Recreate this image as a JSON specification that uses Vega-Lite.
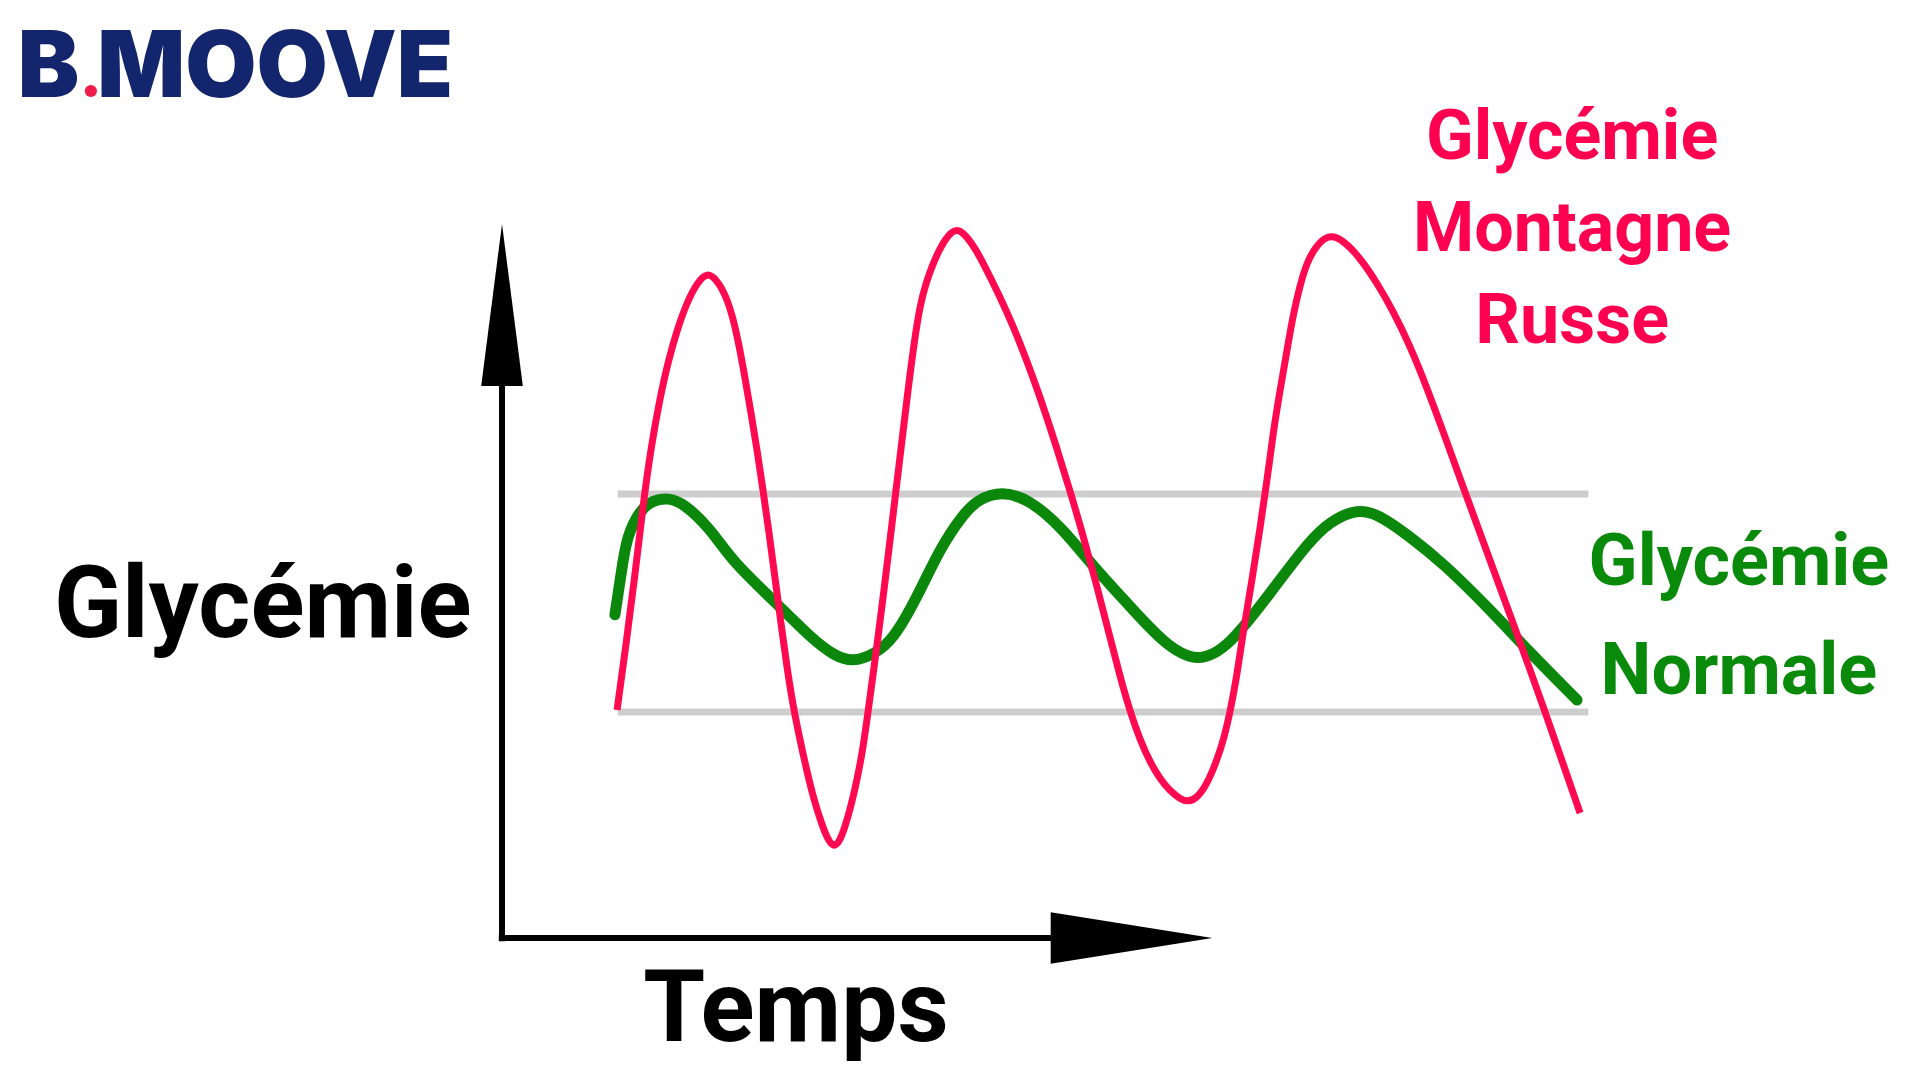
{
  "$schema": "https://vega.github.io/schema/vega-lite/v6.json",
  "width": 1920,
  "height": 1080,
  "autosize": {"type": "fit", "contains": "padding"},
  "padding": 0,
  "background": "white",
  "config": {"view": {"stroke": null}},
  "datasets": {
    "bands": [
      {"t": 16.3, "t2": 153.0, "v": 111},
      {"t": 16.3, "t2": 153.0, "v": 56.5}
    ],
    "axesLines": [
      {"t": 0, "t2": 0, "v": -0.8, "v2": 140},
      {"t": -0.45, "t2": 78.5, "v": 0, "v2": 0}
    ],
    "yArrow": [{"t": 0, "v": 158.25}],
    "xArrow": [{"t": 88.66, "v": 0}],
    "red": [
      {"t": 16.20, "v": 57.0}, {"t": 17.46, "v": 73.25}, {"t": 18.73, "v": 90.75}, {"t": 19.86, "v": 108.25},
      {"t": 20.99, "v": 122.75}, {"t": 22.25, "v": 135.0}, {"t": 23.38, "v": 144.0}, {"t": 24.65, "v": 152.0},
      {"t": 26.06, "v": 159.0}, {"t": 27.46, "v": 163.75}, {"t": 28.87, "v": 166.5}, {"t": 30.28, "v": 164.5},
      {"t": 31.55, "v": 160.5}, {"t": 32.54, "v": 155.0}, {"t": 33.38, "v": 148.25}, {"t": 34.23, "v": 140.0},
      {"t": 35.07, "v": 131.25}, {"t": 35.92, "v": 122.0}, {"t": 36.76, "v": 112.0}, {"t": 37.61, "v": 101.25},
      {"t": 38.45, "v": 90.0}, {"t": 39.30, "v": 78.5}, {"t": 40.14, "v": 67.5}, {"t": 40.99, "v": 58.0},
      {"t": 41.97, "v": 49.5}, {"t": 42.96, "v": 41.5}, {"t": 43.94, "v": 34.5}, {"t": 44.93, "v": 29.0},
      {"t": 45.77, "v": 25.0}, {"t": 46.62, "v": 22.75}, {"t": 47.46, "v": 23.75}, {"t": 48.31, "v": 27.75},
      {"t": 49.15, "v": 33.0}, {"t": 50.00, "v": 39.5}, {"t": 50.85, "v": 47.5}, {"t": 51.55, "v": 56.5},
      {"t": 52.25, "v": 65.75}, {"t": 52.96, "v": 75.25}, {"t": 53.80, "v": 87.0}, {"t": 54.65, "v": 99.5},
      {"t": 55.49, "v": 112.0}, {"t": 56.34, "v": 124.5}, {"t": 57.18, "v": 137.0}, {"t": 58.03, "v": 148.75},
      {"t": 58.87, "v": 158.25}, {"t": 59.72, "v": 163.75}, {"t": 60.56, "v": 168.0}, {"t": 61.69, "v": 172.5},
      {"t": 62.82, "v": 175.75}, {"t": 64.08, "v": 177.5}, {"t": 65.35, "v": 175.65}, {"t": 66.62, "v": 172.4},
      {"t": 67.75, "v": 168.8}, {"t": 70.14, "v": 160.3}, {"t": 71.97, "v": 153.0}, {"t": 73.94, "v": 144.25},
      {"t": 75.77, "v": 135.3}, {"t": 78.17, "v": 122.3}, {"t": 80.00, "v": 111.75}, {"t": 81.69, "v": 101.55},
      {"t": 83.66, "v": 88.8}, {"t": 85.63, "v": 75.1}, {"t": 87.04, "v": 65.4}, {"t": 88.45, "v": 56.6},
      {"t": 89.86, "v": 49.5}, {"t": 91.27, "v": 43.9}, {"t": 92.68, "v": 39.75}, {"t": 94.08, "v": 36.75},
      {"t": 95.49, "v": 34.75}, {"t": 96.62, "v": 34.0}, {"t": 97.89, "v": 35.0}, {"t": 99.30, "v": 38.5},
      {"t": 100.70, "v": 44.5}, {"t": 101.69, "v": 50.0}, {"t": 102.54, "v": 56.5}, {"t": 103.52, "v": 65.75},
      {"t": 104.37, "v": 76.5}, {"t": 105.63, "v": 89.5}, {"t": 106.76, "v": 102.5}, {"t": 107.75, "v": 114.5},
      {"t": 108.59, "v": 126.25}, {"t": 109.58, "v": 137.0}, {"t": 110.56, "v": 147.0}, {"t": 111.41, "v": 155.75},
      {"t": 112.39, "v": 163.25}, {"t": 113.38, "v": 169.0}, {"t": 114.51, "v": 172.5}, {"t": 115.63, "v": 174.75},
      {"t": 116.90, "v": 175.75}, {"t": 118.73, "v": 174.0}, {"t": 120.85, "v": 170.0}, {"t": 123.24, "v": 163.75},
      {"t": 125.49, "v": 156.75}, {"t": 127.89, "v": 148.0}, {"t": 130.28, "v": 137.5}, {"t": 132.82, "v": 125.25},
      {"t": 135.35, "v": 112.75}, {"t": 138.87, "v": 95.75}, {"t": 142.39, "v": 78.75}, {"t": 144.79, "v": 67.0},
      {"t": 146.90, "v": 56.5}, {"t": 149.30, "v": 44.25}, {"t": 151.83, "v": 31.25}
    ],
    "green": [
      {"t": 15.9, "v": 80.8}, {"t": 17.0, "v": 93.8}, {"t": 17.6, "v": 100.3}, {"t": 19.4, "v": 107},
      {"t": 21.3, "v": 109.5}, {"t": 23.4, "v": 110}, {"t": 25.5, "v": 108.8}, {"t": 29.3, "v": 102.5},
      {"t": 32.5, "v": 94}, {"t": 38.2, "v": 84.5}, {"t": 43.8, "v": 74.5}, {"t": 46.9, "v": 70.5},
      {"t": 49.4, "v": 69}, {"t": 52.3, "v": 70.8}, {"t": 55.1, "v": 74.5}, {"t": 58.5, "v": 85.3},
      {"t": 61.7, "v": 97.5}, {"t": 64.9, "v": 105.8}, {"t": 66.9, "v": 109.5}, {"t": 70.4, "v": 111.8},
      {"t": 74.4, "v": 109.5}, {"t": 78.9, "v": 102.5}, {"t": 82.8, "v": 93.8}, {"t": 88.5, "v": 82.8},
      {"t": 93.1, "v": 73.8}, {"t": 97.9, "v": 68.5}, {"t": 102.5, "v": 73.0}, {"t": 108.2, "v": 86.3},
      {"t": 113.8, "v": 99.5}, {"t": 116.6, "v": 104}, {"t": 119.9, "v": 107}, {"t": 123.0, "v": 106.5},
      {"t": 127.9, "v": 100.3}, {"t": 132.5, "v": 93.8}, {"t": 139.6, "v": 81.3}, {"t": 144.4, "v": 72},
      {"t": 151.4, "v": 59.5}
    ],
    "logo": [
      {"label": "B", "t": -68.2, "v": 210.25},
      {"label": "MOOVE", "t": -57.0, "v": 210.25}
    ],
    "logoDot": [{"t": -57.9, "v": 211.75}],
    "axisLabels": [
      {"label": "Glycémie", "t": -33.7, "v": 75.25},
      {"label": "Temps", "t": 41.4, "v": -25.75}
    ],
    "redLabels": [
      {"label": "Glycémie", "t": 150.7, "v": 194.75},
      {"label": "Montagne", "t": 150.7, "v": 171.75},
      {"label": "Russe", "t": 150.7, "v": 148.75}
    ],
    "greenLabels": [
      {"label": "Glycémie", "t": 174.2, "v": 88.25},
      {"label": "Normale", "t": 174.2, "v": 61}
    ]
  },
  "encoding": {
    "x": {"field": "t", "type": "quantitative", "scale": {"domain": [-70.7, 199.7], "nice": false, "zero": false}, "axis": null},
    "y": {"field": "v", "type": "quantitative", "scale": {"domain": [-35.5, 234.5], "nice": false, "zero": false}, "axis": null}
  },
  "layer": [
    {
      "data": {"name": "bands"},
      "mark": {"type": "rule", "color": "#cdcdcd", "strokeWidth": 7},
      "encoding": {"x2": {"field": "t2"}}
    },
    {
      "data": {"name": "axesLines"},
      "mark": {"type": "rule", "color": "#000000", "strokeWidth": 6},
      "encoding": {"x2": {"field": "t2"}, "y2": {"field": "v2"}}
    },
    {
      "data": {"name": "yArrow"},
      "mark": {"type": "point", "shape": "M0,-1L0.257,1L-0.257,1Z", "size": 26244, "filled": true, "color": "#000000", "opacity": 1, "strokeWidth": 0}
    },
    {
      "data": {"name": "xArrow"},
      "mark": {"type": "point", "shape": "M1,0L-1,-0.318L-1,0.318Z", "size": 26147, "filled": true, "color": "#000000", "opacity": 1, "strokeWidth": 0}
    },
    {
      "data": {"name": "green"},
      "mark": {"type": "line", "color": "#0b870b", "strokeWidth": 11, "interpolate": "basis", "strokeCap": "round"}
    },
    {
      "data": {"name": "red"},
      "mark": {"type": "line", "color": "#ff0a50", "strokeWidth": 7, "interpolate": "basis"}
    },
    {
      "data": {"name": "logo"},
      "mark": {"type": "text", "align": "left", "baseline": "alphabetic", "font": "Inter", "fontWeight": 900, "fontSize": 92, "color": "#13256d"},
      "encoding": {"text": {"field": "label"}}
    },
    {
      "data": {"name": "logoDot"},
      "mark": {"type": "point", "shape": "circle", "size": 150, "filled": true, "color": "#ee1c47", "opacity": 1, "strokeWidth": 0}
    },
    {
      "data": {"name": "axisLabels"},
      "mark": {"type": "text", "align": "center", "baseline": "alphabetic", "font": "Roboto", "fontWeight": "bold", "fontSize": 100, "color": "#000000"},
      "encoding": {"text": {"field": "label"}}
    },
    {
      "data": {"name": "redLabels"},
      "mark": {"type": "text", "align": "center", "baseline": "alphabetic", "font": "Roboto", "fontWeight": "bold", "fontSize": 70, "color": "#ff0050"},
      "encoding": {"text": {"field": "label"}}
    },
    {
      "data": {"name": "greenLabels"},
      "mark": {"type": "text", "align": "center", "baseline": "alphabetic", "font": "Roboto", "fontWeight": "bold", "fontSize": 72, "color": "#0a8a0a"},
      "encoding": {"text": {"field": "label"}}
    }
  ]
}
